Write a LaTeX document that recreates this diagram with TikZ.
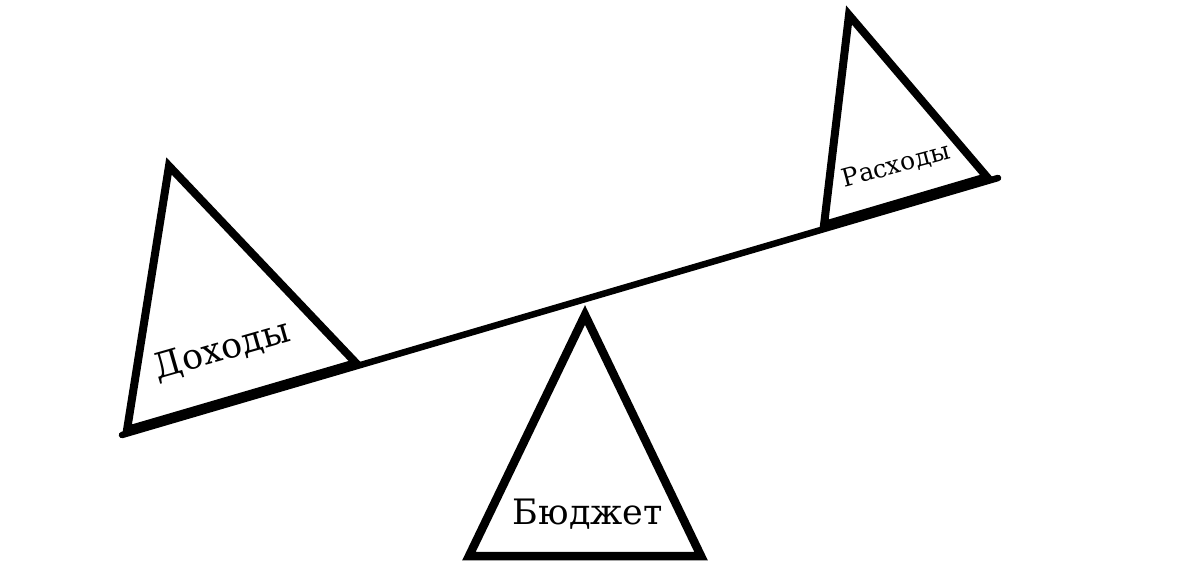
\documentclass[tikz,border=0pt]{standalone}
\usepackage{fontspec}
\setmainfont{DejaVu Serif}
\begin{document}
\begin{tikzpicture}[x=1pt,y=-1pt,
  tri/.style={line width=8pt,line join=miter},
  beam/.style={line width=6.5pt,line cap=round},
  lbl/.style={inner sep=0pt,anchor=base}]
\useasboundingbox (0,0) rectangle (1200,569);
% beam
\coordinate (L) at (122,435);
\coordinate (R) at (998,178);
\draw[beam] (L) -- (R);
% left weight
\coordinate (la) at (169,166);
\coordinate (lb) at (127,430);
\coordinate (lc) at (356,363);
\draw[tri] (la) -- (lb) -- (lc) -- cycle;
% right weight
\coordinate (ra) at (849,15);
\coordinate (rb) at (824,225);
\coordinate (rc) at (987,177);
\draw[tri] (ra) -- (rb) -- (rc) -- cycle;
% fulcrum
\coordinate (ca) at (585,315);
\coordinate (cb) at (469,556);
\coordinate (cc) at (701,556);
\draw[tri,line width=8.5pt] (ca) -- (cb) -- (cc) -- cycle;
% labels
\node[lbl,rotate=16,font=\fontsize{35}{40}\selectfont] (doh) at (225,360) {Доходы};
\node[lbl,rotate=15,font=\fontsize{25}{30}\selectfont] (ras) at (898,173) {Расходы};
\node[lbl,font=\fontsize{35}{40}\selectfont] (bud) at (588,524) {Бюджет};
\end{tikzpicture}
\end{document}
